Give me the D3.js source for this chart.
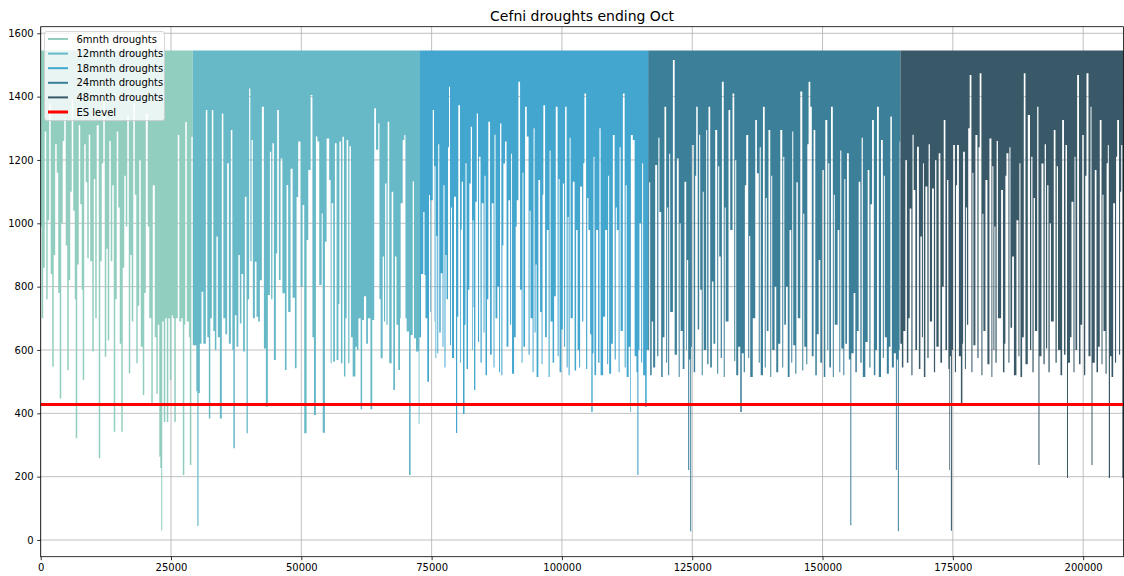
<!DOCTYPE html>
<html>
<head>
<meta charset="utf-8">
<script src="https://cdn.jsdelivr.net/npm/d3@7"></script>
<style>
  body { margin: 0; background: #fff; }
  svg { display: block; font-family: "DejaVu Sans", sans-serif; }
</style>
</head>
<body>
<svg id="chart" width="1124" height="576"></svg>
<script>
// Reservoir storage minima for droughts ending in October, by drought length.
// Each pair is [row index, minimum storage] and holds until the next pair;
// the storage sits at the full level between droughts.
const seriesNames = ["6mnth droughts", "12mnth droughts", "18mnth droughts", "24mnth droughts", "48mnth droughts"];
const seriesColors = ["#92cec0", "#67b9c7", "#43a6ce", "#3c7f99", "#395968"];

const drought6 = [
  [0,990],[190,700],[480,860],[770,1290],[1060,760],[1340,1010],[1630,1380],[1920,840],[2210,547],[2500,900],
  [2780,1250],[3070,1160],[3360,780],[3650,447],[3940,1000],[4220,1260],[4510,1330],[4800,930],[5090,537],[5380,820],
  [5660,1100],[5950,1390],[6240,1040],[6530,760],[6720,321],[7010,870],[7300,1310],[7580,1060],[7870,790],[8060,505],
  [8350,1250],[8640,1130],[8930,890],[9220,1280],[9500,880],[9890,595],[10180,1140],[10460,700],[10750,1310],[11140,258],
  [11420,880],[11710,1190],[12000,1400],[12290,579],[12580,920],[12860,630],[13150,1260],[13440,880],[13730,1120],[14020,342],
  [14300,760],[14590,1290],[14880,1050],[15170,620],[15460,342],[15740,860],[16030,1150],[16320,990],[16610,1340],[16900,526],
  [17180,900],[17470,690],[17760,1380],[18050,1090],[18340,558],[18620,740],[18910,1200],[19200,610],[19580,458],[19870,780],
  [20160,1347],[20540,990],[20830,700],[21220,432],[21500,1120],[21890,640],[22180,462],[22460,680],[22750,263],[22940,227],
  [23130,30],[23320,690],[23610,373],[23900,700],[24190,373],[24480,700],[24770,505],[25060,710],[25340,700],[25630,373],
  [25920,700],[26300,1279],[26590,690],[26980,700],[27260,205],[27550,680],[27740,1320],[28030,690],[28420,640],[28610,237],
  [28900,1273],[29180,1273]
];

const drought12 = [
  [29180,615],[29860,470],[30050,44],[30280,464],[30530,620],[30850,784],[31200,620],[31680,1358],[31970,640],[32260,384],
  [32540,700],[32830,1358],[33120,660],[33410,600],[33700,958],[33980,640],[34370,384],[34750,1347],[35040,700],[35420,650],
  [35770,1190],[36100,620],[36480,1295],[36770,600],[36960,290],[37250,710],[37570,610],[37920,900],[38210,684],[38500,840],
  [38840,595],[39170,1084],[39490,337],[39740,760],[39990,1426],[40220,880],[40450,1263],[40700,700],[41090,879],[41410,705],
  [41720,690],[42050,820],[42430,1368],[42820,605],[43200,421],[43580,774],[43970,1226],[44220,760],[44450,1253],[44740,568],
  [45120,905],[45370,1358],[45700,821],[46020,1205],[46370,779],[46850,537],[47170,1121],[47480,720],[47940,1172],[48330,765],
  [48770,542],[49090,1083],[49400,1258],[49860,800],[50250,1058],[50560,337],[51010,947],[51330,1168],[51790,1405],[52130,640],
  [52420,395],[52800,1274],[53090,1258],[53440,805],[53900,1031],[54110,339],[54530,942],[54850,1268],[55350,1137],[55620,558],
  [55810,1063],[56120,563],[56450,1253],[56770,568],[57120,745],[57310,1258],[57600,558],[57890,1273],[58180,516],[58460,700],
  [58690,1263],[59000,558],[59230,1243],[59520,640],[59850,516],[60100,516],[60380,610],[60670,600],[60960,700],[61380,413],
  [61670,695],[62020,770],[62440,620],[62780,700],[63260,413],[63610,695],[63990,1363],[64320,1232],[64760,1316],[64990,760],
  [65220,574],[65610,895],[65860,690],[66080,1126],[66340,680],[66570,1321],[66870,558],[67330,1100],[67640,474],[67970,895],
  [68260,680],[68600,537],[68930,700],[69060,1063],[69450,1263],[69760,1279],[69980,700],[70210,658],[70660,205],[70980,647],
  [71370,1132],[71620,637],[72000,595],[72520,366],[72670,640],[72770,640]
];

const drought18 = [
  [72770,640],[72960,840],[73400,1036],[73630,837],[73820,700],[74170,500],[74500,1089],[74690,720],[74820,1073],[75210,1358],
  [75460,690],[75540,1180],[75740,575],[75890,960],[76090,590],[76270,1250],[76470,655],[76740,842],[77090,610],[77270,1120],
  [77470,545],[77660,900],[77860,760],[78140,1240],[78340,1431],[78530,615],[78710,1050],[78910,575],[79300,1084],[79680,338],
  [79910,705],[80120,1373],[80450,560],[80600,980],[80770,1131],[81020,398],[81310,680],[81500,1190],[81700,540],[81980,790],
  [82240,1126],[82510,1305],[82750,600],[82880,1010],[83040,735],[83140,474],[83390,1068],[83660,1347],[83900,625],[84100,1210],
  [84380,560],[84610,1063],[84960,655],[85150,1150],[85340,520],[85630,760],[85880,1321],[86210,585],[86530,1063],[86880,545],
  [87060,1280],[87260,700],[87610,800],[87940,530],[88130,1315],[88380,520],[88580,930],[88770,1189],[89090,1258],[89380,610],
  [89730,1073],[90050,680],[90250,1220],[90430,525],[90820,640],[91130,990],[91330,1073],[91650,1447],[91970,790],[92260,560],
  [92440,1160],[92610,610],[92930,1368],[93250,1274],[93600,585],[93800,1040],[93980,700],[94370,530],[94560,1300],[94750,655],
  [94950,870],[95140,515],[95480,1137],[95810,720],[96100,555],[96280,1090],[96440,1373],[96770,640],[97100,979],[97440,515],
  [97640,1230],[97820,690],[98210,560],[98500,770],[98820,1368],[99170,580],[99370,1140],[99550,530],[99900,665],[100170,1126],
  [100420,610],[100610,1368],[100900,545],[101100,1020],[101280,520],[101480,1270],[101660,700],[102090,1131],[102430,535],[102720,979],
  [103010,600],[103300,545],[103490,1116],[103870,690],[104100,1190],[104310,1410],[104640,540],[104860,1080],[105080,979],[105410,650],
  [105640,404],[105890,590],[106060,1210],[106240,520],[106560,979],[106940,560],[107200,1300],[107420,520],[107900,705],[108290,979],
  [108670,555],[108870,1150],[109060,525],[109440,620],[109770,1279],[110110,570],[110330,1050],[110530,979],[110880,530],[111060,1240],
  [111260,660],[111690,1410],[112030,545],[112230,1120],[112420,515],[112800,610],[113090,404],[113220,1279],[113600,1263],[113950,580],
  [114290,530],[114470,205],[114680,600],[114870,1000],[115200,560],[115390,1190],[115580,520],[115970,420],[116260,600],[116540,600]
];

const drought24 = [
  [116540,600],[116730,1130],[116930,520],[117220,690],[117500,545],[117890,1184],[118270,580],[118500,1270],[118710,1036],[119040,515],
  [119330,640],[119670,1368],[120000,560],[120190,1050],[120380,520],[120580,1220],[120770,720],[121290,1516],[121630,585],[122060,1205],
  [122400,515],[122590,1000],[122780,660],[123170,540],[123510,1131],[123840,600],[123970,884],[124220,221],[124420,570],[124610,28],
  [124800,610],[124930,1247],[125280,530],[125560,1150],[125760,1368],[126050,665],[126330,1280],[126530,790],[126820,520],[127010,1100],
  [127200,600],[127680,1295],[127870,555],[128120,1368],[128450,545],[128770,816],[129080,620],[129410,1295],[129790,525],[129980,1180],
  [130180,895],[130460,575],[130690,1447],[131040,515],[131230,1050],[131420,690],[131960,1358],[132290,979],[132730,1410],[133060,565],
  [133250,1200],[133440,520],[133820,610],[134210,404],[134500,590],[134880,530],[135100,1120],[135360,1279],[135740,575],[135930,960],
  [136130,515],[136610,700],[137090,1326],[137410,1158],[137760,560],[137950,1240],[138140,520],[138570,1368],[138910,545],[139100,1080],
  [139300,660],[139630,1295],[139970,515],[140160,1150],[140350,600],[140800,800],[141120,530],[141500,620],[141890,1295],[142270,545],
  [142460,1210],[142660,680],[142980,800],[143330,515],[143670,979],[144000,560],[144190,1290],[144380,615],[144770,525],[144980,1130],
  [145250,700],[145730,1416],[146110,535],[146300,1030],[146500,610],[146880,555],[147080,1250],[147320,1447],[147650,1368],[147940,580],
  [148280,1295],[148610,520],[148900,650],[149250,884],[149570,560],[149890,1168],[150240,515],[150530,1326],[150910,600],[151100,1190],
  [151300,545],[151620,1368],[151970,515],[152160,1090],[152350,680],[152890,979],[153220,530],[153400,1230],[153600,605],[153980,520],
  [154180,1140],[154370,620],[154690,1221],[155040,570],[155330,47],[155520,590],[155960,780],[156290,530],[156580,660],[156930,1131],
  [157250,560],[157500,1270],[157730,515],[158210,625],[158660,1168],[158980,545],[159200,1060],[159500,1326],[159840,520],[160130,600],
  [160450,1368],[160800,515],[161220,1263],[161560,575],[161760,1150],[161950,640],[162330,525],[162720,610],[163010,1337],[163300,545],
  [163680,590],[164070,221],[164260,570],[164450,28],[164640,600],[164790,1258],[164930,1258]
];

const drought48 = [
  [164930,620],[165220,545],[165500,660],[165890,1200],[166180,560],[166460,700],[166720,1047],[167040,520],[167260,1280],[167480,1105],
  [167810,600],[168130,1242],[168480,540],[168770,958],[169060,640],[169260,1190],[169440,515],[169730,1116],[170110,575],[170350,1250],
  [170590,690],[171010,1110],[171360,530],[171600,1200],[171840,610],[172280,1221],[172610,560],[172930,800],[173250,1326],[173570,600],
  [173890,1137],[174140,540],[174300,221],[174430,580],[174620,29],[174820,600],[175040,1247],[175390,530],[175600,1120],[175810,1247],
  [176160,580],[176540,430],[176830,620],[176970,1226],[177310,540],[177500,1050],[177700,680],[177950,1300],[178230,1468],[178560,530],
  [178760,1160],[178940,615],[179330,1279],[179710,575],[179930,1240],[180150,1474],[180480,520],[180680,1030],[180860,660],[181250,1137],
  [181630,555],[182020,1268],[182400,515],[182580,1180],[182780,600],[182970,990],[183170,560],[183400,1260],[183650,700],[184260,1105],
  [184610,530],[184900,620],[185080,1150],[185280,1221],[185660,560],[185860,1240],[186050,670],[186370,895],[186720,520],[187200,1010],
  [187580,580],[187770,1190],[187970,515],[188290,640],[188610,1474],[188930,555],[189380,1342],[189800,600],[190040,1210],[190270,530],
  [190500,1080],[190750,660],[191180,1368],[191420,237],[191620,580],[192000,1189],[192380,555],[192620,1250],[192860,605],[193100,1120],
  [193340,530],[193580,1000],[193820,690],[194360,1295],[194690,560],[194930,1180],[195170,600],[195650,520],[195970,1326],[196320,585],
  [196610,1247],[196900,196],[197090,560],[197470,640],[197760,1068],[198140,530],[198340,1210],[198530,600],[198850,1468],[199200,555],
  [199490,680],[199810,1279],[200160,520],[200400,1150],[200640,1474],[201020,580],[201410,1368],[201600,237],[201790,560],[202230,1168],
  [202560,530],[202850,610],[203190,1326],[203520,555],[203710,1090],[203900,660],[204290,525],[204500,1190],[204730,1247],[204920,196],
  [205150,580],[205440,515],[205760,1063],[206110,560],[206320,1210],[206530,1326],[206880,585],[207090,1100],[207300,1247],[207510,196],
  [207740,196]
];

const seriesData = [drought6, drought12, drought18, drought24, drought48];

const fullLevel = 1546;   // storage between droughts
const esLevel = 428;      // emergency storage level
const xTicks = [0, 25000, 50000, 75000, 100000, 125000, 150000, 175000, 200000];
const yTicks = [0, 200, 400, 600, 800, 1000, 1200, 1400, 1600];
const xDomain = [0, 207740];
const yDomain = [-52.7, 1620.8];

const svg = d3.select("#chart");
const W = 1124, H = 576;
const margin = { left: 40.7, right: 0.5, top: 26.7, bottom: 19.3 };
const plotL = margin.left, plotR = W - margin.right, plotT = margin.top, plotB = H - margin.bottom;

const x = d3.scaleLinear().domain(xDomain).range([plotL, plotR]);
const y = d3.scaleLinear().domain(yDomain).range([plotB, plotT]);

// grid
const grid = svg.append("g").attr("stroke", "#b0b0b0").attr("stroke-width", 0.8);
grid.selectAll("line.gx").data(xTicks).join("line")
  .attr("x1", d => x(d)).attr("x2", d => x(d)).attr("y1", plotT).attr("y2", plotB);
grid.selectAll("line.gy").data(yTicks).join("line")
  .attr("x1", plotL).attr("x2", plotR).attr("y1", d => y(d)).attr("y2", d => y(d));

// drought traces
const area = d3.area()
  .curve(d3.curveStepAfter)
  .x(d => x(d[0]))
  .y0(y(fullLevel))
  .y1(d => y(d[1]));

svg.append("g").selectAll("path").data(seriesData).join("path")
  .attr("d", d => area(d))
  .attr("fill", (d, i) => seriesColors[i]);

// emergency storage line
svg.append("line")
  .attr("x1", plotL).attr("x2", plotR)
  .attr("y1", y(esLevel)).attr("y2", y(esLevel))
  .attr("stroke", "red").attr("stroke-width", 3);

// axes
const xAxis = d3.axisBottom(x).tickValues(xTicks).tickFormat(d3.format("d")).tickSize(3.5).tickPadding(3.5);
const yAxis = d3.axisLeft(y).tickValues(yTicks).tickFormat(d3.format("d")).tickSize(3.5).tickPadding(3.5);

const gx = svg.append("g").attr("transform", `translate(0,${plotB})`).call(xAxis);
const gy = svg.append("g").attr("transform", `translate(${plotL},0)`).call(yAxis);
[gx, gy].forEach(g => {
  g.select(".domain").remove();
  g.selectAll("line").attr("stroke", "#000").attr("stroke-width", 0.8);
  g.selectAll("text").attr("fill", "#000").style("font-size", "10px").style("font-family", "DejaVu Sans, sans-serif");
});

// frame
svg.append("rect")
  .attr("x", plotL).attr("y", plotT).attr("width", plotR - plotL).attr("height", plotB - plotT)
  .attr("fill", "none").attr("stroke", "#000").attr("stroke-width", 0.8);

// title
svg.append("text")
  .attr("x", (plotL + plotR) / 2).attr("y", 21)
  .attr("text-anchor", "middle")
  .style("font-size", "14px")
  .attr("fill", "#000")
  .text("Cefni droughts ending Oct");

// legend
const legendItems = seriesNames.map((n, i) => ({ name: n, color: seriesColors[i], width: 2 }))
  .concat([{ name: "ES level", color: "red", width: 3 }]);
const lg = svg.append("g").attr("transform", "translate(44.5,31.5)");
lg.append("rect")
  .attr("width", 120).attr("height", 89).attr("rx", 2.5)
  .attr("fill", "#fff").attr("fill-opacity", 0.8)
  .attr("stroke", "#cccccc").attr("stroke-width", 0.8);
const rows = lg.selectAll("g.row").data(legendItems).join("g")
  .attr("transform", (d, i) => `translate(0,${7.5 + i * 14.6})`);
rows.append("line")
  .attr("x1", 3.5).attr("x2", 23.5)
  .attr("stroke", d => d.color).attr("stroke-width", d => d.width);
rows.append("text")
  .attr("x", 32).attr("dy", "0.35em")
  .style("font-size", "10px").attr("fill", "#000")
  .text(d => d.name);
</script>
</body>
</html>
